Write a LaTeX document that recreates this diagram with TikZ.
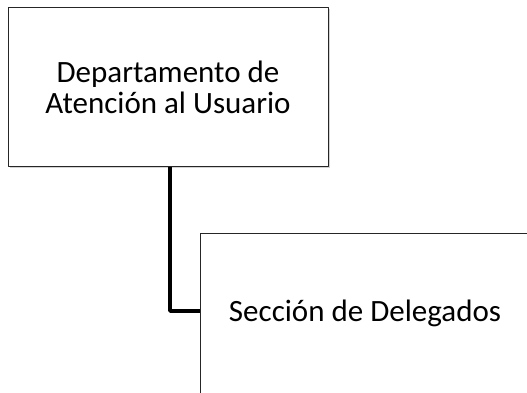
\documentclass[tikz,border=0pt]{standalone}
\usepackage{fontspec}
\setmainfont{Carlito}
\usetikzlibrary{shadows}
\tikzset{caja/.style={draw=black!85, line width=0.9pt, fill=white, align=center, font=\fontsize{31}{31}\selectfont, drop shadow={shadow xshift=1.5pt, shadow yshift=-1.5pt, opacity=.35}}}
\begin{document}
\begin{tikzpicture}[x=1pt, y=-1pt, line join=round]
	\useasboundingbox (0,0) rectangle (527,393);
	\clip (0,0) rectangle (527,393);
	\node[caja, minimum width=320pt, minimum height=159pt] (dep) at (168,87) {Departamento de\\Atención al Usuario};
	\node[caja, minimum width=340pt, minimum height=162pt] (sec) at (370,314) {};
	\node[font=\fontsize{31}{31}\selectfont] (sect) at (365,313) {Sección de Delegados};
	\draw[line width=3.6pt] (dep.south -| 170,0) |- (sec.west |- 0,311);
\end{tikzpicture}
\end{document}
